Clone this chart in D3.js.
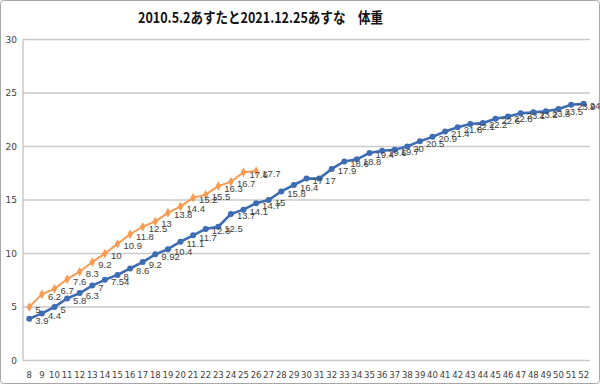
<!DOCTYPE html>
<html><head><meta charset="utf-8">
<script src="https://cdn.jsdelivr.net/npm/d3@7"></script>
<style>html,body{margin:0;padding:0;background:#fff;}svg{display:block;}</style>
</head><body>
<svg id="c" width="600" height="384"></svg>
<script>
const categories = d3.range(8, 53).map(String);
const blueValues = [3.9,4.4,5,5.8,6.3,7,7.54,8,8.6,9.2,9.92,10.4,11.1,11.7,12.3,12.5,13.7,14.1,14.7,15,15.8,16.4,17,17,17.9,18.6,18.8,19.4,19.6,19.7,20,20.5,20.9,21.4,21.8,22.1,22.2,22.6,22.8,23.1,23.2,23.3,23.5,23.9,24];
const orangeValues = [5,6.2,6.7,7.6,8.3,9.2,10,10.9,11.8,12.5,13,13.8,14.4,15.2,15.5,16.3,16.7,17.6,17.7];
const yTicks = [0,5,10,15,20,25,30];
const title = "2010.5.2あすたと2021.12.25あすな　体重";

const svg = d3.select("#c");
svg.append("rect").attr("x",0.5).attr("y",0.5).attr("width",599).attr("height",383)
  .attr("rx",3).attr("fill","#fff").attr("stroke","#a6a6a6");

const L=23, R=590, T=39.5, B=360.5;
const x = d3.scaleBand().domain(categories).range([L,R]);
const y = d3.scaleLinear().domain([0,30]).range([B,T]);
const cx = d => x(d) + x.bandwidth()/2;

// grid
svg.append("g").selectAll("line").data(yTicks).join("line")
  .attr("x1",L).attr("x2",R).attr("y1",d=>y(d)).attr("y2",d=>y(d))
  .attr("stroke","#c9c9c9").attr("stroke-width",1.3);
svg.append("line").attr("x1",L).attr("x2",L).attr("y1",T).attr("y2",B)
  .attr("stroke","#c0c0c0").attr("stroke-width",1.3);

// y axis labels
const yAxis = d3.axisLeft(y).tickValues(yTicks).tickSize(0).tickPadding(6);
const gy = svg.append("g").attr("transform",`translate(${L},0)`).call(yAxis);
gy.select(".domain").remove();
gy.selectAll("text").attr("font-family","DejaVu Sans").attr("font-size",9).attr("fill","#404040");

// x axis labels
const xAxis = d3.axisBottom(x).tickSize(0).tickPadding(11);
const gx = svg.append("g").attr("transform",`translate(0,${B})`).call(xAxis);
gx.select(".domain").remove();
gx.selectAll("text").attr("font-family","DejaVu Sans").attr("font-size",8.5).attr("fill","#404040");

// title
svg.append("text").attr("x",138).attr("y",23).attr("text-anchor","start")
  .attr("font-family","Noto Sans CJK JP").attr("font-weight","bold").attr("font-size",14.5)
  .attr("textLength",245).attr("lengthAdjust","spacingAndGlyphs")
  .attr("fill","#111").text(title);

const blue = "#3d6cb3", orange = "#f79a52";
const line = d3.line().x((d,i)=>cx(categories[i])).y(d=>y(d));

svg.append("path").datum(orangeValues).attr("d",line).attr("fill","none")
  .attr("stroke",orange).attr("stroke-width",2).attr("stroke-linejoin","round");
svg.append("g").selectAll("path").data(orangeValues).join("path")
  .attr("d",d3.symbol(d3.symbolDiamond,26))
  .attr("transform",(d,i)=>`translate(${cx(categories[i])},${y(d)})`)
  .attr("fill",orange);

svg.append("path").datum(blueValues).attr("d",line).attr("fill","none")
  .attr("stroke",blue).attr("stroke-width",2.6).attr("stroke-linejoin","round");
svg.append("g").selectAll("circle").data(blueValues).join("circle")
  .attr("cx",(d,i)=>cx(categories[i])).attr("cy",d=>y(d)).attr("r",3)
  .attr("fill",blue);

function labels(vals){
  svg.append("g").selectAll("text").data(vals).join("text")
    .attr("x",(d,i)=>cx(categories[i])+6).attr("y",d=>y(d)+3)
    .attr("dominant-baseline","middle")
    .attr("font-family","Liberation Sans").attr("font-size",9.5).attr("fill","#404040")
    .text(d=>d);
}
labels(orangeValues);
labels(blueValues);
</script>
</body></html>
